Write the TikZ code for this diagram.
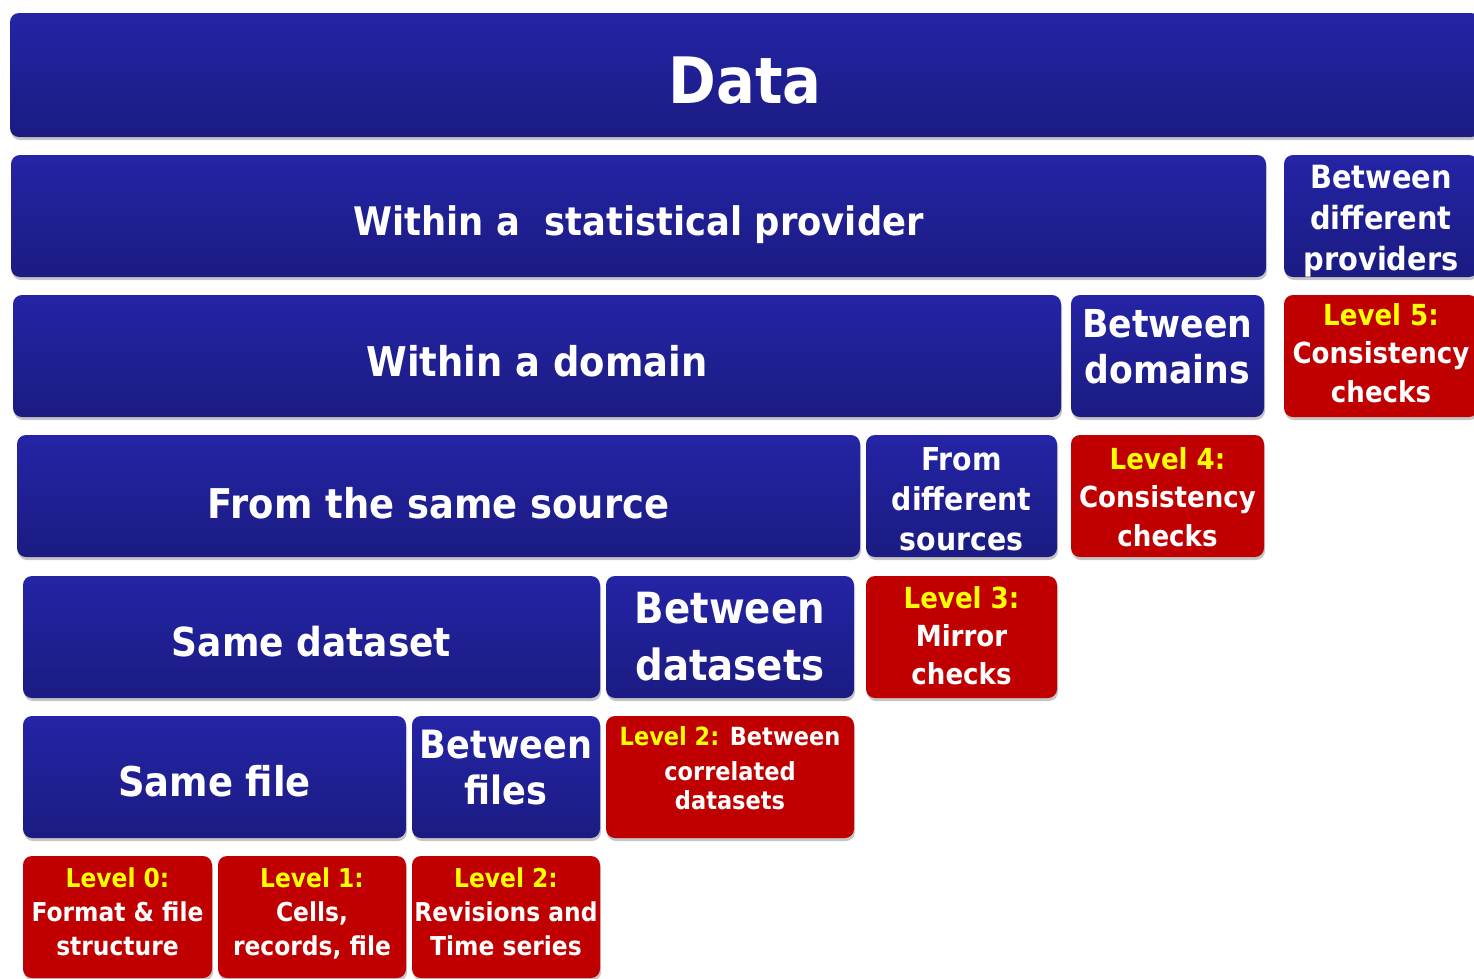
\documentclass[tikz,border=0pt]{standalone}
\usepackage{fontspec}
\setmainfont{DejaVu Sans}[FakeStretch=0.9]
\usetikzlibrary{shadows}
\definecolor{bluetop}{HTML}{2424A6}
\definecolor{bluebot}{HTML}{1B1B82}
\definecolor{redbox}{HTML}{C00000}
\definecolor{lvl}{HTML}{FFFF00}
\tikzset{
  base/.style={rounded corners=9pt, inner sep=0pt, align=center, text=white,
    font=\bfseries, drop shadow={shadow xshift=1pt, shadow yshift=-3pt, opacity=0.45}},
  bluebox/.style={base, top color=bluetop, bottom color=bluebot},
  redbox/.style={base, fill=redbox},
  fs/.style n args={2}{font=\fontsize{#1}{#2}\selectfont\bfseries},
  bdown/.style={text height=#1, text depth=0pt},
  bup/.style={text height=0pt, text depth=#1},
}
\newcommand{\lv}[1]{\textcolor{lvl}{#1}}
\newcommand{\ml}[1]{\begin{tabular}[t]{@{}c@{}}#1\end{tabular}}
\begin{document}
\begin{tikzpicture}[x=1pt,y=-1pt]
\useasboundingbox (0,0) rectangle (1474,978);
\fill[white] (0,0) rectangle (1474,978);
% row 0
\node[bluebox, fs={64}{70}, bdown=56pt, minimum width=1470pt, minimum height=124pt] (data) at (745,75) {Data};
% row 1
\node[bluebox, fs={39.3}{46}, bdown=38pt, minimum width=1255pt, minimum height=122pt] (prov) at (638.5,216) {Within a\ \ statistical provider};
\node[bluebox, fs={32}{41}, bup=56pt, minimum width=194pt, minimum height=122pt] (diffprov) at (1381,216) {\ml{Between\\different\\providers}};
% row 2
\node[bluebox, fs={41}{46}, bdown=41pt, minimum width=1048pt, minimum height=122pt] (domain) at (537,356) {Within a domain};
\node[bluebox, fs={38.5}{46}, bup=38pt, minimum width=193pt, minimum height=122pt] (betdom) at (1167.5,356) {\ml{Between\\domains}};
\node[redbox, fs={29}{38.5}, bup=62pt, minimum width=194pt, minimum height=122pt] (lvl5) at (1381,356) {\ml{\lv{Level 5:}\\Consistency\\checks}};
% row 3
\node[bluebox, fs={41}{46}, bdown=44pt, minimum width=843pt, minimum height=122pt] (samesrc) at (438.5,496) {From the same source};
\node[bluebox, fs={31.5}{40}, bup=52pt, minimum width=191pt, minimum height=122pt] (diffsrc) at (961.5,496) {\ml{From\\different\\sources}};
\node[redbox, fs={29}{38.5}, bup=54pt, minimum width=193pt, minimum height=122pt] (lvl4) at (1167.5,496) {\ml{\lv{Level 4:}\\Consistency\\checks}};
% row 4
\node[bluebox, fs={40}{46}, bdown=38pt, minimum width=577pt, minimum height=122pt] (samedata) at (311.5,637) {Same dataset};
\node[bluebox, fs={43}{57}, bup=28pt, minimum width=248pt, minimum height=122pt] (betdata) at (730,637) {\ml{Between\\datasets}};
\node[redbox, fs={29}{38}, bup=58pt, minimum width=191pt, minimum height=122pt] (lvl3) at (961.5,637) {\ml{\lv{Level 3:}\\Mirror\\checks}};
% row 5
\node[bluebox, fs={41}{46}, bdown=38pt, minimum width=383pt, minimum height=122pt] (samefile) at (214.5,777) {Same file};
\node[bluebox, fs={39}{46}, bup=38pt, minimum width=188pt, minimum height=122pt] (betfiles) at (506,777) {\ml{Between\\files}};
\node[redbox, fs={25}{29}, bup=64pt, minimum width=248pt, minimum height=122pt] (lvl2b) at (730,777) {\ml{\lv{Level 2:} Between\\[6pt]correlated\\datasets}};
% row 6
\node[redbox, fs={26}{34}, bup=60pt, minimum width=189pt, minimum height=122pt] (lvl0) at (117.5,917) {\ml{\lv{Level 0:}\\Format \& file\\structure}};
\node[redbox, fs={26}{34}, bup=60pt, minimum width=188pt, minimum height=122pt] (lvl1) at (312,917) {\ml{\lv{Level 1:}\\Cells,\\records, file}};
\node[redbox, fs={26}{34}, bup=60pt, minimum width=188pt, minimum height=122pt] (lvl2a) at (506,917) {\ml{\lv{Level 2:}\\Revisions and\\Time series}};
\end{tikzpicture}
\end{document}
